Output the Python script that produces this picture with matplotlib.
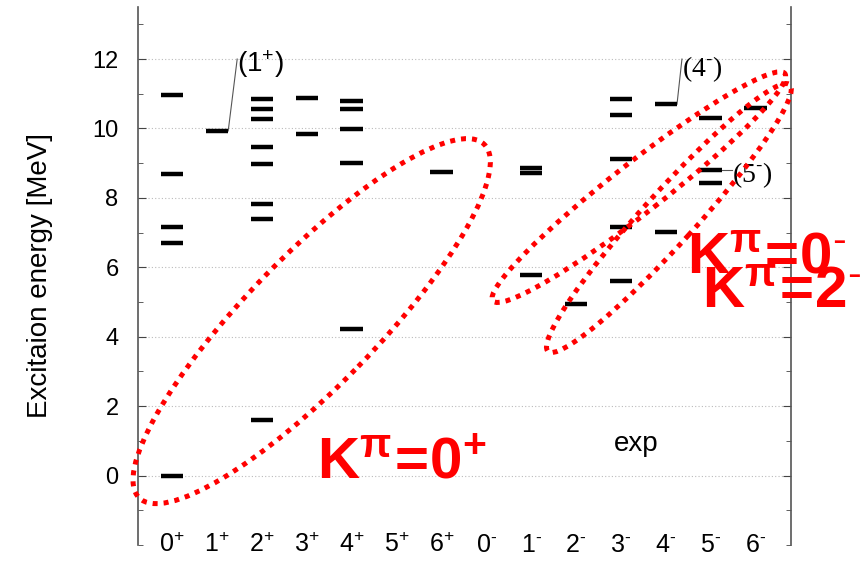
import numpy as np
import matplotlib
matplotlib.use("Agg")
import matplotlib.pyplot as plt
from matplotlib.patches import Ellipse
from matplotlib.transforms import IdentityTransform
from matplotlib.ticker import MultipleLocator

plt.rcParams['font.family'] = ['Liberation Sans', 'DejaVu Sans']
plt.rcParams['mathtext.fontset'] = 'custom'
plt.rcParams['mathtext.rm'] = 'Liberation Sans'
plt.rcParams['mathtext.it'] = 'Liberation Sans:italic'
plt.rcParams['mathtext.bf'] = 'Liberation Sans:bold'

# spin-parity columns
jpi = [r'$0^{+}$', r'$1^{+}$', r'$2^{+}$', r'$3^{+}$', r'$4^{+}$', r'$5^{+}$', r'$6^{+}$',
       r'$0^{\text{-}}$', r'$1^{\text{-}}$', r'$2^{\text{-}}$', r'$3^{\text{-}}$',
       r'$4^{\text{-}}$', r'$5^{\text{-}}$', r'$6^{\text{-}}$']

# measured levels (MeV)
e_0p = [0.0, 6.70, 7.16, 8.68, 10.96]
e_1p = [9.93]
e_2p = [1.61, 7.40, 7.82, 8.98, 9.47, 10.26, 10.57, 10.84]
e_3p = [9.84, 10.87]
e_4p = [4.21, 9.00, 9.98, 10.55, 10.79]
e_5p = []
e_6p = [8.75]
e_0m = []
e_1m = [5.77, 8.71, 8.85]
e_2m = [4.95]
e_3m = [5.61, 7.16, 9.11, 10.39, 10.84]
e_4m = [7.01, 10.70]
e_5m = [8.44, 8.80, 10.29]
e_6m = [10.60]
levels = [e_0p, e_1p, e_2p, e_3p, e_4p, e_5p, e_6p,
          e_0m, e_1m, e_2m, e_3m, e_4m, e_5m, e_6m]

fig = plt.figure(figsize=(8.68, 5.66), dpi=100)
ax = fig.add_axes([138/868, 1-545/566, (791-138)/868, (545-7)/566])
ax.set_xlim(-0.76, 13.79)
ax.set_ylim(-2, 13.5)

for i, es in enumerate(levels):
    if es:
        ax.hlines(es, i-0.25, i+0.25, color='black', lw=3.2, zorder=3)

# tentative assignments
ax.plot([1.25, 1.45], [e_1p[0], 12.0], color='#555555', lw=0.8)
ax.text(1.45, 11.85, r'(1$^{+}$)', fontsize=20, va='center', ha='left')
ax.plot([11.25, 11.36], [e_4m[1], 12.0], color='#555555', lw=0.8)
ax.text(11.36, 11.72, r'(4$^{\text{-}}$)', fontsize=20, va='center', ha='left',
        family='Liberation Serif')
ax.plot([12.25, 12.47], [e_5m[1], e_5m[1]], color='#555555', lw=0.8)
ax.text(12.47, 8.66, r'(5$^{\text{-}}$)', fontsize=20, va='center', ha='left',
        family='Liberation Serif')
ax.text(10.34, 0.92, 'exp', fontsize=20, ha='center', va='center')

ax.set_xticks(range(len(jpi)))
ax.set_xticklabels(jpi, fontsize=18)
ax.tick_params(axis='x', length=0, pad=-9)
ax.set_yticks(np.arange(0, 13, 2))
ax.yaxis.set_minor_locator(MultipleLocator(1))
ax.tick_params(axis='y', which='both', direction='in', right=True,
               color='#444444', labelsize=17, pad=14)
ax.tick_params(axis='y', which='major', length=6)
ax.tick_params(axis='y', which='minor', length=3.5)
ax.yaxis.grid(True, which='major', ls=(0, (1, 2)), color='#bbbbbb', lw=0.8)
ax.set_ylabel('Excitaion energy [MeV]', fontsize=20, labelpad=28)
for s in ['top', 'bottom']:
    ax.spines[s].set_visible(False)
for s in ['left', 'right']:
    ax.spines[s].set_color('#555555')
    ax.spines[s].set_linewidth(1.2)

# rotational band groupings, sized in screen pixels
def band(cx, cy, a, b, ang):
    x0, y0 = ax.transData.transform((cx, cy))
    ax.add_patch(Ellipse((x0, y0), 2*a, 2*b, angle=ang, transform=IdentityTransform(),
                         fill=False, ec='red', lw=3.6, ls=(0, (1, 1.2)),
                         clip_on=False, zorder=5))

band(3.11, 4.45, 247, 65, 45.7)
band(10.40, 8.31, 185, 25, 37.9)
band(11.07, 7.42, 180, 26, 47.8)

kw = dict(color='red', fontsize=42, ha='left', va='baseline', clip_on=False, zorder=6)
ax.text(3.23, -0.09, r'$\mathbf{K^{π}\!=\!0^{+}}$', **kw)
ax.text(11.47, 5.86, r'$\mathbf{K^{π}\!=\!0^{\text{-}}}$', **kw)
ax.text(11.80, 4.85, r'$\mathbf{K^{π}\!=\!2^{\text{-}}}$', **kw)

fig.savefig('out.png', dpi=100)
